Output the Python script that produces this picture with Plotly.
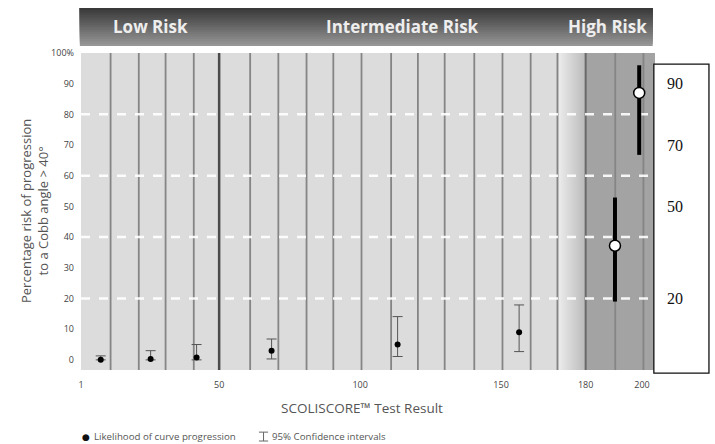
import plotly.graph_objects as go

# ---- data ----
likelihood_x = [8, 25.7, 42, 68.6, 113.3, 156.4]
likelihood_y = [0, 0.3, 0.8, 3, 5, 9]
likelihood_lo = [0, 0, 0, 0.3, 1.1, 2.7]
likelihood_hi = [1.3, 3, 5, 6.8, 14.1, 17.9]

high_x = [190.4, 199]
high_y = [37.2, 87]
high_lo = [19, 66.8]
high_hi = [52.9, 96]

box_labels = ["90", "70", "50", "20"]
box_label_y = [90, 70, 50, 20]

x_tickvals = [1, 50, 100, 150, 180, 200]
y_tickvals = [0, 10, 20, 30, 40, 50, 60, 70, 80, 90, 100]
y_ticktext = ["0", "10", "20", "30", "40", "50", "60", "70", "80", "90", "100%"]

grid_x = [11.5, 21.5, 31, 41, 50, 61, 71, 81, 90.5, 100.5, 111, 120.5, 130,
          140.5, 150.5, 160.5, 170, 180, 190.5, 200.5]
dashed_y = [20, 40, 60, 80]

risk_labels = ["Low Risk", "Intermediate Risk", "High Risk"]
risk_label_x = [25.5, 115, 187.6]

XMIN, XMAX = 1, 204.6
YMIN, YMAX = -3.3, 100

fig = go.Figure()

shapes = []
# gradient transition to high-risk zone (overlapping strips, no seams)
n = 14
g0, g1 = 170.5, 180
for i in range(n):
    x0 = g0 + (g1 - g0) * i / n
    c = int(234 - (234 - 188) * i / (n - 1))
    shapes.append(dict(type="rect", xref="x", yref="y", x0=x0, x1=g1, y0=YMIN, y1=YMAX,
                       fillcolor=f"rgb({c},{c},{c})", line_width=0, layer="below"))
shapes.append(dict(type="rect", xref="x", yref="y", x0=180, x1=XMAX, y0=YMIN, y1=YMAX,
                   fillcolor="#a3a3a3", line_width=0, layer="below"))
# vertical lines
for gx in grid_x:
    if gx == 50:
        col, w = "#4a4a4a", 2.5
    elif gx == 180:
        col, w = "#6a6a6a", 2
    else:
        col, w = "#858585", 1.8
    shapes.append(dict(type="line", xref="x", yref="y", x0=gx, x1=gx, y0=YMIN, y1=YMAX,
                       line=dict(color=col, width=w), layer="below"))
# dashed white lines
for dy in dashed_y:
    shapes.append(dict(type="line", xref="x", yref="y", x0=XMIN, x1=XMAX, y0=dy, y1=dy,
                       line=dict(color="rgba(255,255,255,0.9)", width=2.5, dash="dash"),
                       layer="below"))
# header band gradient (overlapping strips drawn bottom-up)
m = 16
hb, ht = 1.022, 1.142
for i in range(m):
    y0 = hb + (ht - hb) * i / m
    c = int(150 - (150 - 58) * i / (m - 1))
    shapes.append(dict(type="rect", xref="paper", yref="paper", x0=-0.002, x1=0.996, y0=y0, y1=ht,
                       fillcolor=f"rgb({c},{c},{c})", line_width=0))
# right box
shapes.append(dict(type="rect", xref="paper", yref="paper", x0=0.998, x1=1.094, y0=-0.01, y1=0.965,
                   fillcolor="white", line=dict(color="#111", width=1.3)))
# legend I-beam symbol
lx, ly = 0.318, -0.211
shapes += [
    dict(type="line", xref="paper", yref="paper", x0=lx, x1=lx, y0=ly - 0.013, y1=ly + 0.015,
         line=dict(color="#666", width=1)),
    dict(type="line", xref="paper", yref="paper", x0=lx - 0.008, x1=lx + 0.008, y0=ly + 0.015, y1=ly + 0.015,
         line=dict(color="#666", width=1)),
    dict(type="line", xref="paper", yref="paper", x0=lx - 0.008, x1=lx + 0.008, y0=ly - 0.013, y1=ly - 0.013,
         line=dict(color="#666", width=1)),
]

fig.add_trace(go.Scatter(
    x=likelihood_x, y=likelihood_y, mode="markers",
    marker=dict(color="black", size=6),
    error_y=dict(type="data", symmetric=False,
                 array=[h - v for h, v in zip(likelihood_hi, likelihood_y)],
                 arrayminus=[v - l for l, v in zip(likelihood_lo, likelihood_y)],
                 color="#555", thickness=1, width=5),
    showlegend=False, hoverinfo="skip"))

fig.add_trace(go.Scatter(
    x=high_x, y=high_y, mode="markers",
    marker=dict(color="white", size=11, line=dict(color="black", width=1.5)),
    error_y=dict(type="data", symmetric=False,
                 array=[h - v for h, v in zip(high_hi, high_y)],
                 arrayminus=[v - l for l, v in zip(high_lo, high_y)],
                 color="black", thickness=4, width=0),
    showlegend=False, hoverinfo="skip"))

annotations = []
for t, x in zip(risk_labels, risk_label_x):
    annotations.append(dict(text=f"<b>{t}</b>", x=x, y=1.083, xref="x", yref="paper",
                            xanchor="center", yanchor="middle", showarrow=False,
                            font=dict(family="Open Sans", size=17, color="#eeeeee")))
for t, y in zip(box_labels, box_label_y):
    annotations.append(dict(text=t, x=1.035, y=y, xref="paper", yref="y", showarrow=False,
                            xanchor="center", yanchor="middle",
                            font=dict(family="Liberation Serif", size=16, color="#111")))
annotations.append(dict(text="●", x=0.0085, y=-0.211, xref="paper", yref="paper", showarrow=False,
                        xanchor="center", yanchor="middle",
                        font=dict(family="DejaVu Sans", size=9, color="#111")))
annotations.append(dict(text="Likelihood of curve progression", x=0.019, y=-0.211, xref="paper",
                        yref="paper", showarrow=False, xanchor="left", yanchor="middle",
                        font=dict(family="Open Sans", size=9.7, color="#555")))
annotations.append(dict(text="95% Confidence intervals", x=0.329, y=-0.211, xref="paper",
                        yref="paper", showarrow=False, xanchor="left", yanchor="middle",
                        font=dict(family="Open Sans", size=9.7, color="#555")))
# axis titles
annotations.append(dict(text="SCOLISCORE™ Test Result", x=0.49, y=-0.12, xref="paper", yref="paper",
                        showarrow=False, xanchor="center", yanchor="middle",
                        font=dict(family="Open Sans", size=13.5, color="#555")))
annotations.append(dict(text="Percentage risk of progression<br>to a Cobb angle > 40°",
                        x=-0.081, y=0.5, xref="paper", yref="paper", textangle=-90,
                        showarrow=False, xanchor="center", yanchor="middle",
                        font=dict(family="Open Sans", size=13, color="#555")))

fig.update_layout(
    width=715, height=444,
    margin=dict(l=81, r=60, t=53, b=74),
    paper_bgcolor="white", plot_bgcolor="#dcdcdc",
    shapes=shapes, annotations=annotations,
    xaxis=dict(range=[XMIN, XMAX], tickvals=x_tickvals, showgrid=False, zeroline=False,
               showline=False, ticks="", ticklabelstandoff=8, automargin=False,
               tickfont=dict(family="Open Sans", size=9, color="#444")),
    yaxis=dict(range=[YMIN, YMAX], tickvals=y_tickvals, ticktext=y_ticktext, showgrid=False,
               zeroline=False, showline=False, ticks="", ticklabelstandoff=6, automargin=False,
               tickfont=dict(family="Open Sans", size=9, color="#444")),
)

fig.write_html("out.html", config={"displayModeBar": False},
               post_script="document.body.style.margin='0px';")
